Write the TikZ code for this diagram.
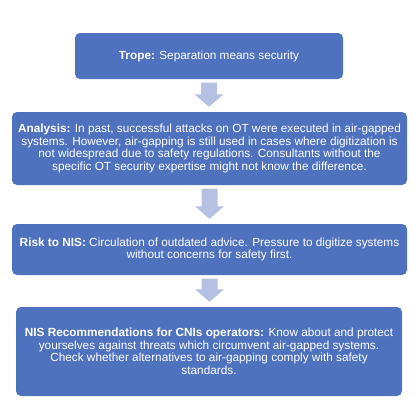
\documentclass[tikz,border=0pt]{standalone}
\usepackage{fontspec}
\setmainfont{Liberation Sans}
\usetikzlibrary{calc}
\definecolor{boxc}{RGB}{79,114,190}
\definecolor{arrowc}{RGB}{180,193,226}
\tikzset{
  card/.style={rectangle, rounded corners=5pt, fill=boxc, draw=none, text=white,
    align=center, inner sep=0pt, font=\fontsize{11.8}{12.5}\selectfont},
  blockarrow/.style={fill=arrowc, draw=none, to path={
    let \p1=(\tikztostart), \p2=(\tikztotarget) in
    (\x1-8pt,\y1-3.5pt) -- (\x1+8pt,\y1-3.5pt) -- (\x1+8pt,\y2+17.5pt) --
    (\x1+14.5pt,\y2+17.5pt) -- (\x1,\y2+5pt) -- (\x1-14.5pt,\y2+17.5pt) --
    (\x1-8pt,\y2+17.5pt) -- cycle}}
}
\begin{document}
\begin{tikzpicture}[x=1pt,y=-1pt]
\fill[white] (0,0) rectangle (418,413);
\useasboundingbox (0,0) rectangle (418,413);
\node[card, minimum width=268pt, minimum height=46pt] (b1) at (209,56)
  {\textbf{Trope:} Separation means security};
\node[card, minimum width=395pt, minimum height=73pt] (b2) at (209.5,148.5)
  {\textbf{Analysis:} In past, successful attacks on OT were executed in air-gapped\\
   systems. However, air-gapping is still used in cases where digitization is\\
   not widespread due to safety regulations. Consultants without the\\
   specific OT security expertise might not know the difference.};
\node[card, minimum width=395pt, minimum height=51pt] (b3) at (209.5,249.5)
  {\textbf{Risk to NIS:} Circulation of outdated advice. Pressure to digitize systems\\
   without concerns for safety first.};
\node[card, minimum width=386pt, minimum height=89pt] (b4) at (209,351.5)
  {\textbf{NIS Recommendations for CNIs operators:} Know about and protect\\
   yourselves against threats which circumvent air-gapped systems.\\
   Check whether alternatives to air-gapping comply with safety\\
   standards.};
\fill[blockarrow] (b1.south) to (b2.north);
\fill[blockarrow] (b2.south) to (b3.north);
\fill[blockarrow] (b3.south) to (b4.north);
\end{tikzpicture}
\end{document}
